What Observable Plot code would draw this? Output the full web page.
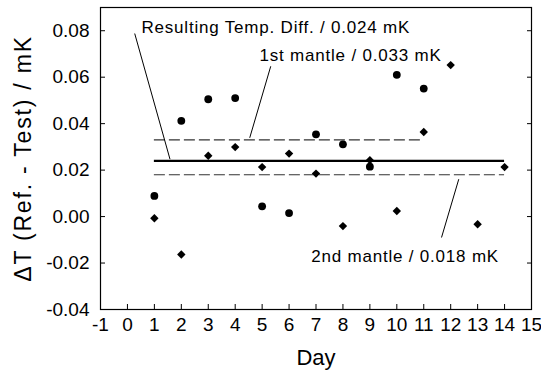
<!DOCTYPE html>
<html>
<head>
<meta charset="utf-8">
<script src="https://cdn.jsdelivr.net/npm/d3@7"></script>
<script src="https://cdn.jsdelivr.net/npm/@observablehq/plot@0.6"></script>
<style>
  html, body { margin: 0; padding: 0; background: #fff; }
  svg { font-family: "Liberation Sans", Arial, sans-serif; }
</style>
</head>
<body>
<div id="chart"></div>
<script>
// ---- data ----
const circleDays   = [1, 2, 3, 4, 5, 6, 7, 8, 9, 10, 11];
const circleValues = [0.0089, 0.0412, 0.0505, 0.0510, 0.0044, 0.0015, 0.0354, 0.0311, 0.0215, 0.0610, 0.0551];
const diamondDays   = [1, 2, 3, 4, 5, 6, 7, 8, 9, 10, 11, 12, 13, 14];
const diamondValues = [-0.0007, -0.0163, 0.0262, 0.0299, 0.0213, 0.0271, 0.0185, -0.0041, 0.0243, 0.0024, 0.0364, 0.0652, -0.0033, 0.0213];

const lineNames  = ["Resulting Temp. Diff.", "1st mantle", "2nd mantle"];
const lineValues = [0.024, 0.033, 0.018];
const lineStart  = [1, 1, 1];
const lineEnd    = [14, 11, 14];

const labelTexts = ["Resulting Temp. Diff. / 0.024 mK", "1st mantle / 0.033 mK", "2nd mantle / 0.018 mK"];
const labelX = [0.52, 4.9, 6.82];
const labelY = [0.0813, 0.0695, -0.0171];
const leaderX1 = [0.27, 5.32, 12.3];
const leaderY1 = [0.0788, 0.0647, 0.0161];
const leaderX2 = [1.58, 4.54, 11.66];
const leaderY2 = [0.0247, 0.0339, -0.009];

const xTicks = d3.range(-1, 16);
const yTicks = [-0.04, -0.02, 0.00, 0.02, 0.04, 0.06, 0.08];
const xLabel = "Day";
const yLabel = "ΔT (Ref. - Test) / mK";

// ---- derived tables ----
const circles  = circleDays.map((d, i) => ({day: d, value: circleValues[i]}));
const diamonds = diamondDays.map((d, i) => ({day: d, value: diamondValues[i]}));
const hlines   = lineNames.map((n, i) => ({name: n, value: lineValues[i], x1: lineStart[i], x2: lineEnd[i]}));
const labels   = labelTexts.map((t, i) => ({text: t, x: labelX[i], y: labelY[i]}));
const leaders  = labelTexts.map((t, i) => ({x1: leaderX1[i], y1: leaderY1[i], x2: leaderX2[i], y2: leaderY2[i]}));

const chart = Plot.plot({
  width: 541,
  height: 372,
  marginLeft: 100,
  marginRight: 10,
  marginTop: 7,
  marginBottom: 63,
  style: {fontFamily: '"Liberation Sans", Arial, sans-serif', background: "#fff", color: "#000"},
  x: {domain: [-1, 15]},
  y: {domain: [-0.04, 0.09]},
  marks: [
    Plot.frame({stroke: "#000", strokeWidth: 1.2}),
    // tick labels
    Plot.axisX({ticks: xTicks, tickSize: 0, tickPadding: 8, fontSize: 19, label: null, tickFormat: d => String(d)}),
    Plot.axisY({ticks: yTicks, tickSize: 0, tickPadding: 11, fontSize: 19, label: null, tickFormat: d => d.toFixed(2)}),
    // inward ticks
    Plot.axisX({ticks: xTicks, tickSize: 5, dy: -5, text: null, label: null}),
    Plot.axisY({ticks: yTicks, tickSize: 5, dx: 5, text: null, label: null}),
    Plot.axisY({anchor: "right", ticks: yTicks, tickSize: 5, dx: -5, text: null, label: null}),
    // horizontal lines
    Plot.ruleY(hlines.filter(d => d.name === "Resulting Temp. Diff."), {y: "value", x1: "x1", x2: "x2", stroke: "#000", strokeWidth: 2.2}),
    Plot.ruleY(hlines.filter(d => d.name !== "Resulting Temp. Diff."), {y: "value", x1: "x1", x2: "x2", stroke: "#333", strokeWidth: 1.1, strokeDasharray: "11,4"}),
    // leaders
    Plot.link(leaders, {x1: "x1", y1: "y1", x2: "x2", y2: "y2", stroke: "#000", strokeWidth: 1}),
    // points
    Plot.dot(circles, {x: "day", y: "value", r: 3.9, fill: "#000", stroke: "none", symbol: "circle"}),
    Plot.dot(diamonds, {x: "day", y: "value", r: 3.8, fill: "#000", stroke: "none", symbol: "diamond2"}),
    // annotation labels
    Plot.text(labels, {x: "x", y: "y", text: "text", textAnchor: "start", lineAnchor: "middle", fontSize: 17, fill: "#000"}),
    // axis titles
    Plot.text([xLabel], {frameAnchor: "bottom", dy: 48, text: d => d, fontSize: 22, textAnchor: "middle", lineAnchor: "middle", fill: "#000"}),
    Plot.text([yLabel], {frameAnchor: "left", dx: -77, rotate: -90, text: d => d, fontSize: 23, textAnchor: "middle", lineAnchor: "middle", fill: "#000"})
  ]
});

// letter spacing tweaks to match the wider reference lettering
d3.select(chart).selectAll("text").each(function() {
  const t = this.textContent;
  if (labelTexts.includes(t)) this.setAttribute("letter-spacing", "0.8");
  else if (t === yLabel) this.setAttribute("letter-spacing", "1.8");
});
document.getElementById("chart").appendChild(chart);
</script>
</body>
</html>
